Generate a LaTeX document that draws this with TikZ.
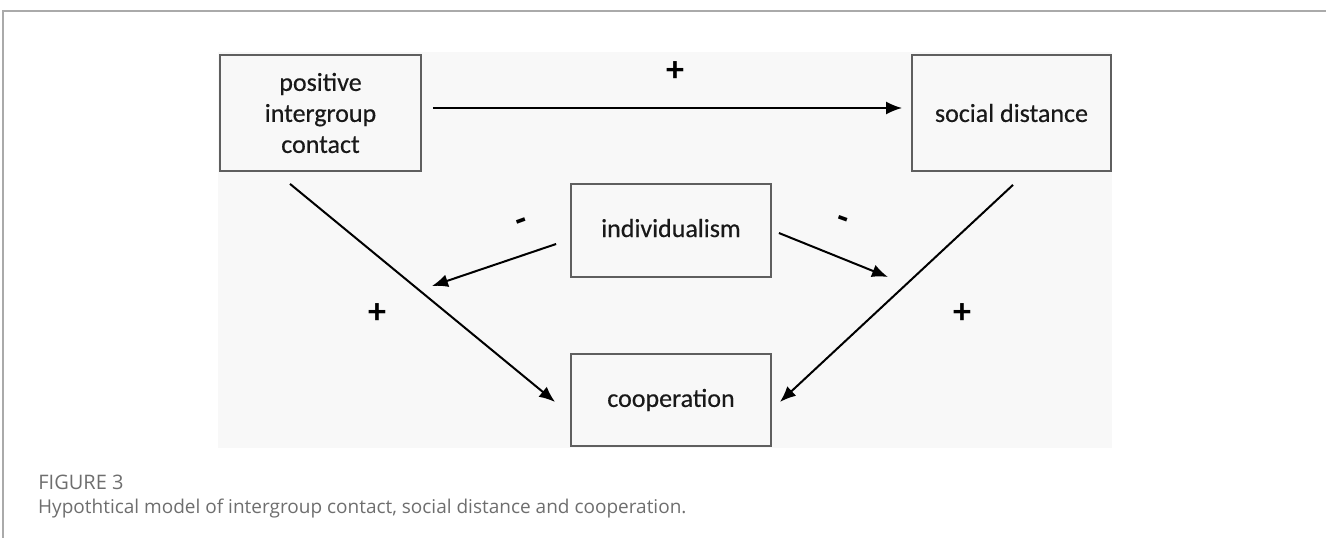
\documentclass[tikz,border=0pt]{standalone}
\usepackage{fontspec}
\setmainfont{Carlito}
\newfontfamily\boxfont[FakeBold=0.4]{Carlito}
\newfontfamily\capfont{Open Sans}
\usepackage{tikz}
\usetikzlibrary{arrows.meta}
\definecolor{panelgray}{RGB}{248,248,248}
\definecolor{framegray}{RGB}{170,170,170}
\definecolor{boxline}{RGB}{95,95,95}
\definecolor{capgray}{RGB}{110,110,110}
\tikzset{
  box/.style ={draw=boxline, line width=1.8pt, fill=panelgray, align=center,
               font=\boxfont\fontsize{26}{31}\selectfont, text=black!90, inner sep=0pt},
  ar/.style  ={-{Latex[length=16pt,width=13pt]}, draw=black, line width=2pt},
  sgn/.style ={font=\fontsize{36}{38}\selectfont\bfseries, inner sep=0pt},
  captext/.style ={anchor=base west, inner sep=0pt, text=capgray},
}

\begin{document}
\begin{tikzpicture}[x=1pt,y=-1pt]
\useasboundingbox (0,0) rectangle (1326,538);
% frame and panel
\draw[framegray, line width=1.3pt] (1326,11) -- (3,11) -- (3,538);
\fill[panelgray] (218,52) rectangle (1112,448);
% boxes
\node[box,minimum width=201pt,minimum height=116pt] (pic) at (320.5,113) {positive\\intergroup\\contact};
\node[box,minimum width=199pt,minimum height=116pt] (sd) at (1011.5,113) {social distance};
\node[box,minimum width=200pt,minimum height=93pt] (ind) at (671,230.5) {\raisebox{5pt}{individualism}};
\node[box,minimum width=200pt,minimum height=92pt] (coop) at (671,400) {cooperation};
\coordinate (mL) at (432,286);
\coordinate (mR) at (888,277);
% paths
\draw[ar] ([shift={(11,-5)}]pic.east) -- ([shift={(-9,-5)}]sd.west);
\draw[ar] ([shift={(-30.5,12)}]pic.south) -- ([shift={(-15,2)}]coop.west);
\draw[ar] ([shift={(1.5,13)}]sd.south) -- ([shift={(8,2)}]coop.east);
\draw[ar] ([shift={(-14,13.5)}]ind.west) -- (mL);
\draw[ar] ([shift={(7,2.5)}]ind.east) -- (mR);
% signs
\node[sgn] (s1) at (675,72) {+};
\node[sgn] (s2) at (377,314) {+};
\node[sgn] (s3) at (962,314) {+};
\node[sgn,rotate=20] (s4) at (523,225) {-};
\node[sgn,rotate=-20] (s5) at (842,223) {-};
% caption
\node[captext,font=\capfont,scale=2] (fig) at (38,489) {FIGURE 3};
\node[captext] (txt) at (38,513) {\capfont\fontsize{19}{21}\selectfont Hypothtical model of intergroup contact, social distance and cooperation.};
\end{tikzpicture}
\end{document}
